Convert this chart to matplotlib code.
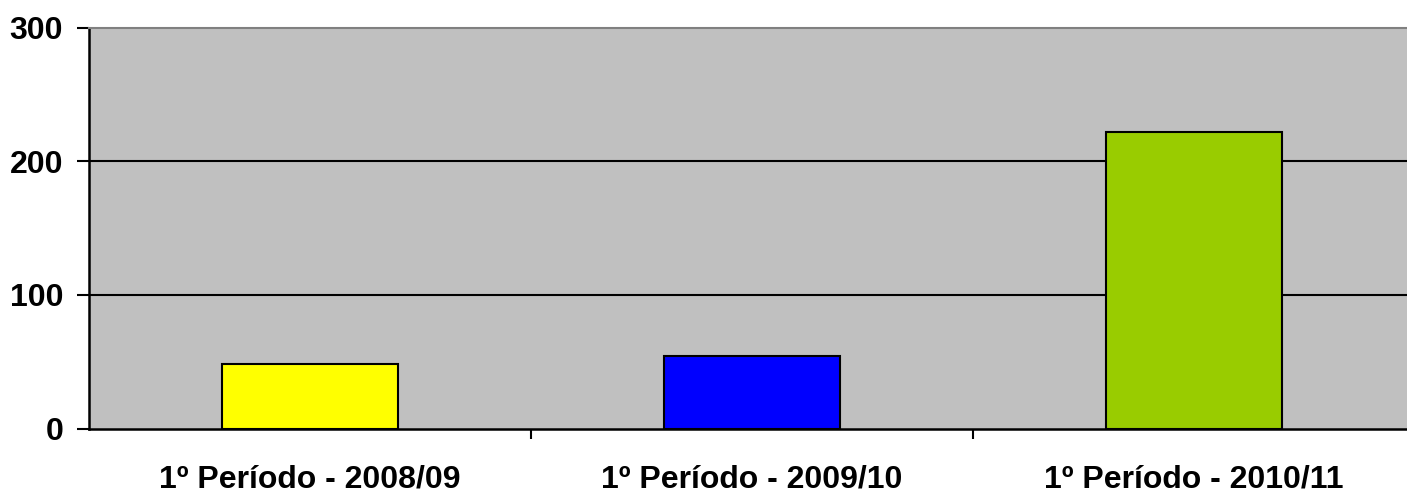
import matplotlib
matplotlib.use("Agg")
import matplotlib.pyplot as plt
from matplotlib.ticker import FixedLocator

categories = ["1º Período - 2008/09", "1º Período - 2009/10", "1º Período - 2010/11"]
values = [48, 54, 222]
colors = ["#FFFF00", "#0000FF", "#99CC00"]
yticks = [0, 100, 200, 300]

plt.rcParams['font.family'] = ['Liberation Sans', 'DejaVu Sans']

fig = plt.figure(figsize=(14.07, 4.93), dpi=100)
ax = fig.add_axes([89/1407, 1 - 428.5/493, 1326/1407, 401/493])
ax.set_facecolor("#C0C0C0")

x = list(range(len(categories)))
ax.bar(x, values, width=0.4, color=colors, edgecolor="black", linewidth=1.5, zorder=3)

ax.set_xlim(-0.5, len(categories) - 0.5)
ax.set_ylim(0, 300)
ax.set_yticks(yticks)
ax.set_yticklabels([str(v) for v in yticks], fontsize=23, fontweight='bold')
for v in yticks[1:-1]:
    ax.axhline(v, color="black", linewidth=1.5, zorder=2)

ax.set_xticks(x)
ax.set_xticklabels(categories, fontsize=23, fontweight='bold')
ax.tick_params(axis='x', length=0, pad=26)
ax.xaxis.set_minor_locator(FixedLocator([0.5, 1.5]))
ax.tick_params(axis='x', which='minor', length=7, width=1.5, direction='out')
ax.tick_params(axis='y', length=8.6, width=1.5, direction='out', pad=10)

ax.spines['top'].set_color("#808080")
ax.spines['top'].set_linewidth(1.5)
ax.spines['right'].set_visible(False)
ax.spines['left'].set_linewidth(1.8)
ax.spines['bottom'].set_linewidth(1.8)

fig.savefig("out.png", dpi=100, facecolor="white")
